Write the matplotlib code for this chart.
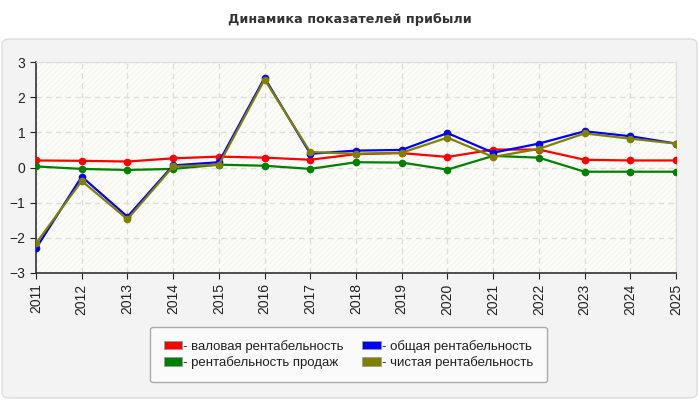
import matplotlib
matplotlib.use("Agg")
import matplotlib.pyplot as plt
from matplotlib.patches import FancyBboxPatch, Rectangle, Patch

years = [str(y) for y in range(2011, 2026)]
gross = [0.20, 0.19, 0.17, 0.26, 0.31, 0.28, 0.22, 0.38, 0.41, 0.30, 0.51, 0.51, 0.22, 0.20, 0.20]
sales = [0.03, -0.04, -0.07, -0.04, 0.08, 0.05, -0.04, 0.15, 0.14, -0.06, 0.33, 0.28, -0.12, -0.12, -0.12]
total = [-2.30, -0.26, -1.40, 0.06, 0.15, 2.55, 0.39, 0.48, 0.50, 0.98, 0.42, 0.68, 1.03, 0.89, 0.68]
net = [-2.16, -0.38, -1.47, 0.03, 0.08, 2.50, 0.44, 0.39, 0.42, 0.85, 0.30, 0.53, 0.97, 0.82, 0.68]

labels = ["- валовая рентабельность", "- рентабельность продаж",
          "- общая рентабельность", "- чистая рентабельность"]
colors = ["#ff0000", "#008000", "#0000ff", "#808000"]
series = [gross, sales, total, net]

plt.rcParams['font.family'] = ['Liberation Sans', 'DejaVu Sans']
plt.rcParams['hatch.linewidth'] = 0.5

fig = plt.figure(figsize=(7, 4), dpi=100)
fig.patch.set_facecolor("white")

# panel
panel = FancyBboxPatch((2 / 700, 2 / 400), 695 / 700, 359 / 400,
                       boxstyle="round,pad=0,rounding_size=0.012",
                       transform=fig.transFigure, facecolor="#f3f3f3",
                       edgecolor="#dddddd", linewidth=1.0, zorder=-10)
fig.add_artist(panel)

fig.text(0.5, 1 - 20 / 400, "Динамика показателей прибыли", ha="center", va="center",
         fontsize=9.2, fontweight="bold", color="#333333", family="DejaVu Sans")

ax = fig.add_axes([36 / 700, 1 - 273 / 400, 640 / 700, 211 / 400])
ax.set_facecolor("#fdfdf8")
ax.add_patch(Rectangle((0, 0), 1, 1, transform=ax.transAxes, facecolor="none",
                       edgecolor="#eeeeee", hatch="//////", linewidth=0, zorder=0))

x = list(range(len(years)))
for s, c, l in zip(series, colors, labels):
    ax.plot(x, s, color=c, linewidth=1.6, marker="o", markersize=4.5, label=l, zorder=3)

ax.set_xlim(0, len(years) - 1)
ax.set_ylim(-3, 3)
ax.set_xticks(x)
ax.set_xticklabels(years, rotation=90, fontsize=10, color="#222222")
ax.set_yticks(range(-3, 4))
ax.tick_params(axis="y", labelsize=10, colors="#222222", length=4)
ax.tick_params(axis="x", length=4, colors="#222222")
ax.grid(True, color="#dddddd", linestyle=(0, (4, 3)), linewidth=1)
ax.set_axisbelow(True)
for side in ["top", "right"]:
    ax.spines[side].set_color("#dddddd")
for side in ["left", "bottom"]:
    ax.spines[side].set_color("#333333")
    ax.spines[side].set_linewidth(1.2)

handles = [Patch(facecolor=c, edgecolor="#999999", linewidth=0.5) for c in colors]
leg = fig.legend(handles, labels, ncol=2, loc="center",
                 bbox_to_anchor=(348.5 / 700, 1 - 354.5 / 400), fontsize=9.5,
                 frameon=True, fancybox=True, handlelength=1.4, handleheight=0.6,
                 handletextpad=0.1, columnspacing=1.4, labelspacing=0.25,
                 borderpad=1.0, labelcolor="#222222")
leg.get_frame().set_edgecolor("#aaaaaa")
leg.get_frame().set_facecolor("#fafafa")
leg.get_frame().set_alpha(1)

fig.savefig("out.png", dpi=100)
